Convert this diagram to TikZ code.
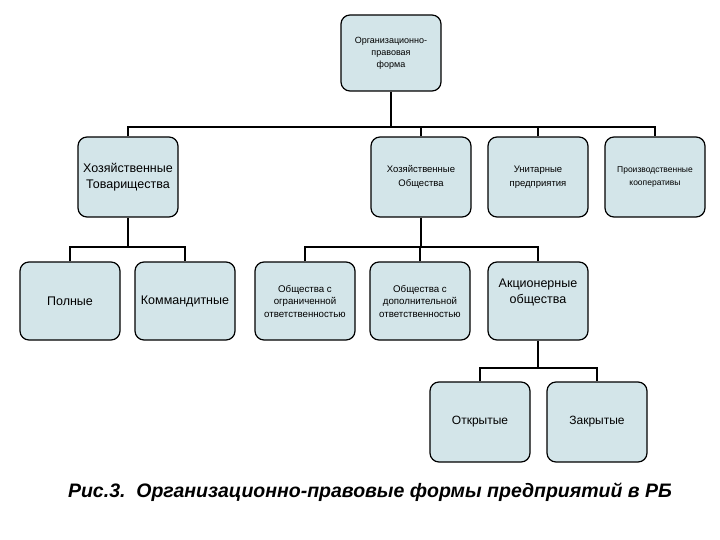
\documentclass[tikz,border=0pt]{standalone}
\usepackage{fontspec}
\setmainfont{Liberation Sans}
\begin{document}
\begin{tikzpicture}[x=1pt,y=-1pt,
 box/.style={draw=black,line width=1.2pt,fill=boxfill,rounded corners=9pt,minimum width=100pt,minimum height=78pt,align=center,inner sep=0pt},
 conn/.style={line width=1.8pt}]
\definecolor{boxfill}{HTML}{D3E5E9}
\useasboundingbox (0,0) rectangle (720,540);
\node[box,minimum height=76pt,font=\fontsize{9}{12}\selectfont] (top) at (391,53) {Организационно-\\правовая\\форма};
\node[box,minimum height=80pt,font=\fontsize{12.5}{16}\selectfont] (ht) at (128,177) {Хозяйственные\\Товарищества};
\node[box,minimum height=80pt,font=\fontsize{9.5}{13.5}\selectfont] (ho) at (421,177) {Хозяйственные\\Общества};
\node[box,minimum height=80pt,font=\fontsize{9.5}{13.5}\selectfont] (up) at (538,177) {Унитарные\\предприятия};
\node[box,minimum height=80pt,font=\fontsize{8.5}{13}\selectfont] (pk) at (655,177) {Производственные\\кооперативы};
\node[box,font=\fontsize{12.5}{15}\selectfont] (pol) at (70,301) {Полные};
\node[box,font=\fontsize{12.5}{15}\selectfont] (kom) at (185,301) {Коммандитные};
\node[box,font=\fontsize{9.7}{12.5}\selectfont] (ooo) at (305,301) {Общества с\\ограниченной\\ответственностью};
\node[box,font=\fontsize{9.7}{12.5}\selectfont] (odo) at (420,301) {Общества с\\дополнительной\\ответственностью};
\node[box,font=\fontsize{12.5}{16}\selectfont] (ao) at (538,301) {Акционерные\\общества\\[3pt]};
\node[box,minimum height=80pt,font=\fontsize{12}{14}\selectfont] (otk) at (480,422) {Открытые};
\node[box,minimum height=80pt,font=\fontsize{12}{14}\selectfont] (zak) at (597,422) {Закрытые};
\node[font=\fontsize{19.5}{22}\selectfont\bfseries\itshape] (cap) at (370,492) {Рис.3.\ \ Организационно-правовые формы предприятий в РБ};
\coordinate (j1) at (391,127);
\draw[conn] (top.south) -- (j1);
\draw[conn] (ht.north) |- (j1) -| (pk.north);
\draw[conn] (ho.north) -- (ho.north |- j1);
\draw[conn] (up.north) -- (up.north |- j1);
\coordinate (j2) at (128,247);
\draw[conn] (ht.south) -- (j2);
\draw[conn] (pol.north) |- (j2) -| (kom.north);
\coordinate (j3) at (421,247);
\draw[conn] (ho.south) -- (j3);
\draw[conn] (ooo.north) |- (j3) -| (ao.north);
\draw[conn] (odo.north) -- (odo.north |- j3);
\coordinate (j4) at (538,368);
\draw[conn] (ao.south) -- (j4);
\draw[conn] (otk.north) |- (j4) -| (zak.north);
\end{tikzpicture}
\end{document}
